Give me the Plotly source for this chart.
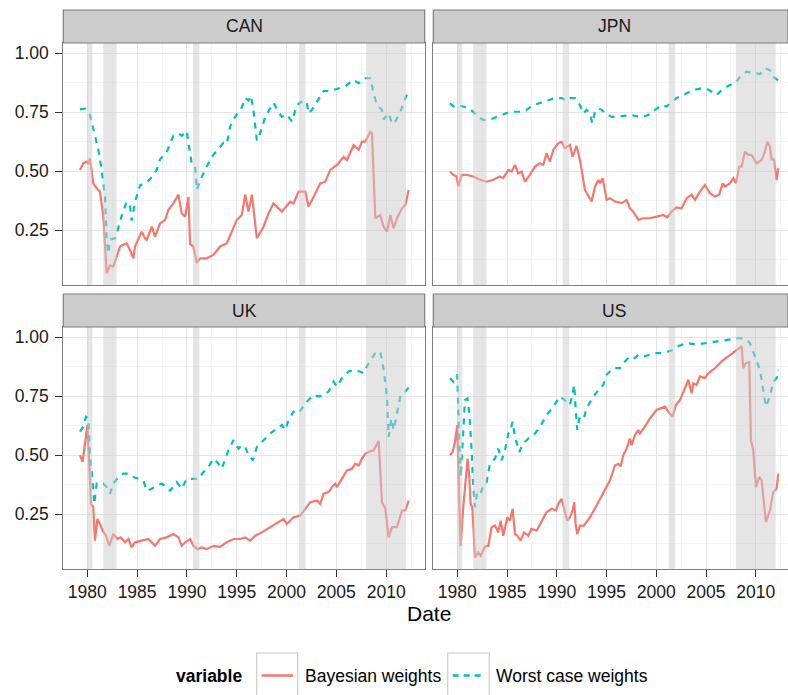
import plotly.graph_objects as go

# ---------------- data (decimal years, weights) ----------------
can_wc_date = [1979.26, 1979.77, 1980.27, 1981.11, 1981.44, 1981.78, 1981.94, 1982.11, 1982.28, 1982.78,
               1982.95, 1983.45, 1983.95, 1984.29, 1984.46, 1984.79, 1985.29, 1985.96, 1986.47, 1986.97,
               1987.30, 1987.97, 1988.64, 1989.15, 1989.48, 1989.72, 1989.98, 1990.15, 1990.49, 1990.82,
               1990.99, 1991.32, 1991.99, 1992.66, 1993.67, 1994.00, 1994.34, 1994.84, 1995.51, 1995.85,
               1996.18, 1996.42, 1996.68, 1997.02, 1997.35, 1997.86, 1998.69, 1999.20, 1999.53, 2000.03,
               2000.54, 2001.04, 2001.71, 2002.04, 2002.21, 2002.55, 2003.05, 2003.72, 2004.39, 2005.06,
               2005.90, 2006.73, 2007.24, 2007.91, 2008.41, 2008.74, 2009.08, 2009.58, 2009.75, 2010.25,
               2010.59, 2010.92, 2011.42, 2011.93, 2012.26]
can_wc = [0.762, 0.765, 0.738, 0.59, 0.505, 0.39, 0.21, 0.15, 0.21, 0.215,
          0.235, 0.31, 0.37, 0.35, 0.29, 0.37, 0.44, 0.45, 0.475, 0.505,
          0.55, 0.58, 0.65, 0.66, 0.65, 0.66, 0.67, 0.62, 0.53, 0.52,
          0.42, 0.46, 0.52, 0.57, 0.62, 0.615, 0.69, 0.73, 0.77, 0.81,
          0.80, 0.82, 0.76, 0.63, 0.66, 0.73, 0.79, 0.75, 0.73, 0.74,
          0.71, 0.78, 0.80, 0.79, 0.745, 0.76, 0.795, 0.84, 0.84, 0.85,
          0.86, 0.887, 0.873, 0.894, 0.894, 0.83, 0.78, 0.76, 0.72, 0.745,
          0.70, 0.71, 0.75, 0.81, 0.84]

can_bw_date = [1979.26, 1979.60, 1979.93, 1980.10, 1980.27, 1980.60, 1980.94, 1981.27, 1981.61, 1981.94,
               1982.28, 1982.61, 1982.95, 1983.28, 1983.62, 1983.95, 1984.29, 1984.62, 1984.79, 1985.46,
               1985.80, 1985.96, 1986.47, 1986.80, 1987.30, 1987.81, 1988.14, 1988.64, 1989.15, 1989.48,
               1989.82, 1990.15, 1990.32, 1990.65, 1990.99, 1991.32, 1991.66, 1991.99, 1992.66, 1993.33,
               1994.00, 1994.51, 1995.01, 1995.51, 1995.85, 1996.18, 1996.52, 1997.02, 1997.69, 1998.19,
               1998.69, 1999.53, 2000.37, 2000.70, 2001.21, 2001.88, 2002.21, 2002.71, 2003.38, 2003.89,
               2004.39, 2005.06, 2005.73, 2006.06, 2006.73, 2007.24, 2007.57, 2007.91, 2008.41, 2008.58,
               2008.91, 2009.41, 2009.75, 2010.08, 2010.42, 2010.75, 2011.09, 2011.59, 2011.93, 2012.26]
can_bw = [0.505, 0.533, 0.54, 0.533, 0.554, 0.448, 0.427, 0.413, 0.307, 0.066,
          0.10, 0.095, 0.137, 0.18, 0.187, 0.193, 0.165, 0.13, 0.18, 0.243,
          0.215, 0.208, 0.264, 0.222, 0.278, 0.293, 0.335, 0.363, 0.40, 0.32,
          0.307, 0.39, 0.19, 0.18, 0.11, 0.13, 0.13, 0.13, 0.144, 0.18,
          0.193, 0.243, 0.293, 0.314, 0.40, 0.328, 0.40, 0.215, 0.264, 0.32,
          0.363, 0.328, 0.37, 0.363, 0.413, 0.413, 0.35, 0.39, 0.448, 0.455,
          0.505, 0.526, 0.56, 0.547, 0.61, 0.59, 0.625, 0.625, 0.667, 0.66,
          0.30, 0.314, 0.264, 0.243, 0.314, 0.257, 0.30, 0.342, 0.356, 0.42]

jpn_wc_date = [1979.26, 1979.60, 1979.93, 1980.44, 1981.11, 1981.61, 1982.11, 1982.61, 1983.12, 1983.62,
               1984.46, 1985.29, 1986.30, 1986.97, 1987.64, 1988.64, 1989.15, 1989.82, 1990.49, 1990.99,
               1991.32, 1991.83, 1992.33, 1992.66, 1993.00, 1993.33, 1993.57, 1993.84, 1994.17, 1994.51,
               1995.01, 1995.51, 1996.52, 1997.52, 1998.53, 1999.20, 1999.87, 2000.54, 2001.04, 2001.54,
               2002.04, 2002.71, 2003.72, 2004.39, 2005.06, 2005.56, 2006.06, 2006.73, 2007.40, 2007.91,
               2008.41, 2009.08, 2009.75, 2010.42, 2010.92, 2011.42, 2011.76, 2012.26]
jpn_wc = [0.788, 0.774, 0.78, 0.776, 0.769, 0.752, 0.73, 0.717, 0.717, 0.724,
          0.738, 0.752, 0.752, 0.76, 0.78, 0.793, 0.80, 0.81, 0.81, 0.80,
          0.81, 0.81, 0.78, 0.745, 0.76, 0.745, 0.703, 0.752, 0.766, 0.76,
          0.74, 0.73, 0.733, 0.738, 0.728, 0.738, 0.76, 0.78, 0.774, 0.794,
          0.81, 0.823, 0.844, 0.85, 0.85, 0.837, 0.823, 0.85, 0.865, 0.872,
          0.90, 0.922, 0.918, 0.912, 0.936, 0.929, 0.90, 0.884]

jpn_bw_date = [1979.26, 1979.60, 1979.93, 1980.10, 1980.44, 1980.94, 1981.61, 1982.28, 1982.95, 1983.62,
               1984.29, 1984.62, 1985.13, 1985.46, 1985.80, 1986.13, 1986.47, 1986.80, 1987.30, 1987.81,
               1988.31, 1988.64, 1988.98, 1989.31, 1989.65, 1990.15, 1990.49, 1990.82, 1991.32, 1991.59,
               1991.99, 1992.33, 1992.83, 1993.50, 1993.84, 1994.17, 1994.34, 1994.61, 1995.01, 1995.34,
               1995.85, 1996.52, 1997.02, 1997.35, 1997.69, 1998.19, 1998.69, 1999.36, 2000.03, 2000.70,
               2001.11, 2001.54, 2002.04, 2002.55, 2003.05, 2003.55, 2003.89, 2004.39, 2004.89, 2005.39,
               2005.90, 2006.33, 2006.67, 2006.90, 2007.40, 2007.74, 2008.01, 2008.34, 2008.58, 2008.91,
               2009.25, 2009.58, 2010.08, 2010.59, 2010.92, 2011.16, 2011.42, 2011.59, 2011.83, 2012.09,
               2012.26]
jpn_bw = [0.498, 0.484, 0.477, 0.435, 0.484, 0.484, 0.477, 0.463, 0.455, 0.463,
          0.477, 0.47, 0.505, 0.498, 0.526, 0.49, 0.498, 0.455, 0.484, 0.519,
          0.533, 0.526, 0.575, 0.54, 0.59, 0.618, 0.625, 0.597, 0.611, 0.561,
          0.607, 0.547, 0.42, 0.371, 0.434, 0.462, 0.448, 0.47, 0.378, 0.385,
          0.371, 0.364, 0.378, 0.342, 0.328, 0.293, 0.30, 0.30, 0.307, 0.314,
          0.304, 0.328, 0.346, 0.342, 0.385, 0.40, 0.378, 0.413, 0.441, 0.406,
          0.392, 0.40, 0.448, 0.434, 0.448, 0.47, 0.448, 0.519, 0.519, 0.583,
          0.569, 0.569, 0.533, 0.547, 0.583, 0.625, 0.604, 0.55, 0.55, 0.462,
          0.512]

uk_wc_date = [1979.26, 1979.60, 1979.87, 1980.10, 1980.27, 1980.50, 1980.70, 1980.94, 1981.27, 1981.61,
              1981.94, 1982.28, 1982.61, 1983.12, 1983.62, 1984.12, 1984.62, 1985.29, 1985.63, 1985.96,
              1986.47, 1986.97, 1987.47, 1987.97, 1988.31, 1988.98, 1989.48, 1989.98, 1990.65, 1991.16,
              1991.66, 1992.16, 1992.66, 1993.17, 1993.50, 1993.84, 1994.17, 1994.67, 1995.18, 1995.51,
              1995.85, 1996.18, 1996.62, 1997.02, 1997.69, 1998.36, 1999.03, 1999.53, 1999.87, 2000.20,
              2000.70, 2001.21, 2001.54, 2002.04, 2002.71, 2003.22, 2003.72, 2004.22, 2004.72, 2005.06,
              2005.56, 2006.23, 2006.90, 2007.40, 2007.74, 2008.24, 2008.91, 2009.41, 2009.75, 2010.08,
              2010.25, 2010.52, 2010.75, 2011.02, 2011.42, 2011.93, 2012.26]
uk_wc = [0.60, 0.621, 0.663, 0.656, 0.493, 0.408, 0.294, 0.38, 0.386, 0.38,
         0.365, 0.337, 0.38, 0.408, 0.422, 0.422, 0.408, 0.40, 0.393, 0.35,
         0.358, 0.372, 0.38, 0.365, 0.35, 0.386, 0.358, 0.40, 0.40, 0.40,
         0.429, 0.45, 0.486, 0.464, 0.443, 0.479, 0.521, 0.564, 0.528, 0.543,
         0.535, 0.50, 0.479, 0.535, 0.564, 0.592, 0.614, 0.628, 0.607, 0.649,
         0.685, 0.678, 0.699, 0.727, 0.756, 0.749, 0.756, 0.77, 0.812, 0.791,
         0.827, 0.855, 0.862, 0.855, 0.848, 0.891, 0.933, 0.94, 0.862, 0.749,
         0.578, 0.656, 0.607, 0.663, 0.749, 0.77, 0.788]

uk_bw_date = [1979.26, 1979.53, 1979.77, 1980.00, 1980.20, 1980.37, 1980.60, 1980.77, 1981.01, 1981.27,
              1981.54, 1981.88, 1982.21, 1982.61, 1983.02, 1983.35, 1983.79, 1984.12, 1984.46, 1984.79,
              1985.46, 1986.13, 1986.80, 1987.30, 1987.97, 1988.64, 1989.15, 1989.48, 1989.82, 1990.32,
              1990.65, 1991.06, 1991.49, 1991.99, 1992.66, 1993.33, 1994.00, 1994.67, 1995.34, 1995.85,
              1996.35, 1996.85, 1997.52, 1998.36, 1999.20, 1999.70, 2000.03, 2000.70, 2001.37, 2001.88,
              2002.38, 2003.05, 2003.38, 2003.72, 2004.22, 2004.56, 2004.89, 2005.06, 2005.56, 2006.06,
              2006.57, 2006.90, 2007.24, 2007.57, 2007.91, 2008.24, 2008.74, 2009.25, 2009.58, 2009.92,
              2010.25, 2010.59, 2011.09, 2011.59, 2011.93, 2012.26]
uk_bw = [0.50, 0.472, 0.55, 0.628, 0.464, 0.294, 0.28, 0.138, 0.23, 0.209,
         0.18, 0.159, 0.116, 0.166, 0.145, 0.152, 0.131, 0.145, 0.11, 0.131,
         0.138, 0.145, 0.116, 0.145, 0.152, 0.166, 0.152, 0.116, 0.131, 0.145,
         0.116, 0.102, 0.109, 0.102, 0.116, 0.112, 0.131, 0.145, 0.145, 0.152,
         0.138, 0.159, 0.173, 0.195, 0.216, 0.23, 0.209, 0.237, 0.244, 0.273,
         0.301, 0.308, 0.294, 0.337, 0.344, 0.365, 0.38, 0.365, 0.40, 0.436,
         0.443, 0.464, 0.457, 0.486, 0.507, 0.514, 0.521, 0.561, 0.301, 0.273,
         0.152, 0.195, 0.195, 0.266, 0.266, 0.308]

us_wc_date = [1979.26, 1979.60, 1979.77, 1980.00, 1980.17, 1980.34, 1980.50, 1980.77, 1981.01, 1981.21,
              1981.44, 1981.61, 1981.78, 1982.01, 1982.35, 1982.61, 1982.95, 1983.28, 1983.79, 1984.12,
              1984.46, 1984.79, 1985.13, 1985.29, 1985.56, 1985.80, 1986.23, 1986.63, 1987.14, 1987.81,
              1988.31, 1988.98, 1989.65, 1990.32, 1990.99, 1991.32, 1991.59, 1991.76, 1991.89, 1992.06,
              1992.26, 1992.66, 1993.00, 1993.67, 1994.34, 1994.67, 1995.01, 1995.68, 1996.35, 1996.85,
              1997.35, 1997.86, 1998.19, 1998.86, 1999.70, 2000.70, 2001.71, 2002.21, 2003.05, 2004.05,
              2005.06, 2006.06, 2007.40, 2008.41, 2009.08, 2009.41, 2009.92, 2010.42, 2010.75, 2011.02,
              2011.42, 2011.76, 2012.09, 2012.26]
us_wc = [0.827, 0.812, 0.834, 0.841, 0.592, 0.408, 0.521, 0.734, 0.741, 0.678,
         0.521, 0.365, 0.28, 0.344, 0.337, 0.372, 0.386, 0.464, 0.486, 0.528,
         0.479, 0.521, 0.592, 0.599, 0.642, 0.578, 0.514, 0.55, 0.571, 0.592,
         0.621, 0.67, 0.706, 0.749, 0.727, 0.713, 0.763, 0.798, 0.699, 0.607,
         0.656, 0.649, 0.699, 0.749, 0.784, 0.798, 0.841, 0.869, 0.869, 0.898,
         0.919, 0.912, 0.926, 0.919, 0.933, 0.933, 0.947, 0.962, 0.976, 0.969,
         0.976, 0.983, 0.99, 0.997, 0.99, 0.976, 0.919, 0.862, 0.777, 0.706,
         0.749, 0.812, 0.827, 0.862]

us_bw_date = [1979.26, 1979.53, 1979.77, 1980.00, 1980.17, 1980.34, 1980.60, 1980.87, 1981.04, 1981.21,
              1981.34, 1981.51, 1981.78, 1982.11, 1982.35, 1982.78, 1983.12, 1983.45, 1983.79, 1984.12,
              1984.36, 1984.62, 1985.03, 1985.29, 1985.56, 1985.80, 1986.03, 1986.37, 1986.70, 1987.14,
              1987.47, 1987.97, 1988.48, 1988.98, 1989.48, 1989.92, 1990.15, 1990.49, 1990.82, 1991.06,
              1991.32, 1991.59, 1991.76, 1991.89, 1992.06, 1992.33, 1992.73, 1993.33, 1994.00, 1994.67,
              1995.34, 1995.85, 1996.18, 1996.42, 1996.68, 1997.02, 1997.35, 1997.52, 1997.86, 1998.19,
              1998.36, 1998.86, 1999.36, 2000.03, 2000.54, 2000.87, 2001.21, 2001.64, 2001.98, 2002.38,
              2002.88, 2003.22, 2003.55, 2003.72, 2004.05, 2004.39, 2004.89, 2005.23, 2005.90, 2006.57,
              2007.24, 2007.91, 2008.58, 2008.74, 2009.01, 2009.35, 2009.51, 2009.75, 2010.02, 2010.35,
              2010.59, 2011.02, 2011.42, 2011.76, 2012.09, 2012.26]
us_bw = [0.50, 0.514, 0.557, 0.628, 0.351, 0.116, 0.28, 0.408, 0.486, 0.408,
         0.294, 0.28, 0.067, 0.088, 0.074, 0.112, 0.116, 0.195, 0.202, 0.173,
         0.223, 0.159, 0.237, 0.223, 0.273, 0.166, 0.159, 0.138, 0.173, 0.159,
         0.188, 0.18, 0.223, 0.259, 0.273, 0.266, 0.294, 0.315, 0.259, 0.223,
         0.237, 0.266, 0.301, 0.209, 0.166, 0.202, 0.202, 0.237, 0.287, 0.337,
         0.393, 0.457, 0.464, 0.453, 0.50, 0.528, 0.571, 0.543, 0.585, 0.607,
         0.592, 0.621, 0.656, 0.692, 0.699, 0.706, 0.685, 0.663, 0.713, 0.734,
         0.784, 0.82, 0.763, 0.805, 0.798, 0.834, 0.827, 0.848, 0.869, 0.898,
         0.919, 0.94, 0.962, 0.869, 0.891, 0.894, 0.564, 0.521, 0.365, 0.408,
         0.393, 0.216, 0.266, 0.344, 0.358, 0.422]

recession_start = [1980.0, 1981.6, 1990.6, 2001.25, 2008.0]
recession_end = [1980.5, 1982.95, 1991.25, 2001.9, 2012.0]

countries = ["CAN", "JPN", "UK", "US"]
series_names = ["Bayesian weights", "Worst case weights"]
x_tick_vals = [1980, 1985, 1990, 1995, 2000, 2005, 2010]
y_tick_vals = [0.25, 0.50, 0.75, 1.00]

data = {
    "CAN": (can_bw_date, can_bw, can_wc_date, can_wc),
    "JPN": (jpn_bw_date, jpn_bw, jpn_wc_date, jpn_wc),
    "UK": (uk_bw_date, uk_bw, uk_wc_date, uk_wc),
    "US": (us_bw_date, us_bw, us_wc_date, us_wc),
}

# ---------------- layout geometry ----------------
W, H = 788, 695
RED, CYAN = "#F8766D", "#00BFC4"
FONT = "Liberation Sans, Arial, sans-serif"
TXT = "#1A1A1A"

def px_x(p):
    return p / W

def px_y(p):
    return 1 - p / H

panel_x = [(63.3, 424.7), (433.3, 788.0), (63.3, 424.7), (433.3, 788.0)]
panel_y = [(43.0, 285.0), (43.0, 285.0), (327.0, 569.3), (327.0, 569.3)]
strip_y = [(10.0, 43.0), (10.0, 43.0), (294.0, 327.0), (294.0, 327.0)]
x_ranges = [[1977.59, 2013.87], [1977.59, 2013.24], [1977.59, 2013.87], [1977.59, 2013.24]]
y_range = [0.0166, 1.0437]

fig = go.Figure()
shapes = []
annotations = []

for i, c in enumerate(countries):
    n = "" if i == 0 else str(i + 1)
    xa, ya = "x" + n, "y" + n
    bd, bv, wd, wv = data[c]
    fig.add_trace(go.Scatter(x=bd, y=bv, mode="lines", name=series_names[0],
                             line=dict(color=RED, width=2.2), xaxis=xa, yaxis=ya,
                             showlegend=False))
    fig.add_trace(go.Scatter(x=wd, y=wv, mode="lines", name=series_names[1],
                             line=dict(color=CYAN, width=2.2, dash="6px,6px"), xaxis=xa, yaxis=ya,
                             showlegend=False))
    bottom = i >= 2
    left = i % 2 == 0
    fig.update_layout(**{
        "xaxis" + n: dict(
            domain=[px_x(panel_x[i][0]), px_x(panel_x[i][1])], anchor=ya,
            range=x_ranges[i], tickvals=x_tick_vals,
            showticklabels=bottom, ticks="outside" if bottom else "",
            ticklen=7, tickwidth=1, tickcolor="#333333",
            tickfont=dict(family=FONT, size=17.5, color=TXT),
            showgrid=True, gridcolor="#E5E5E5", gridwidth=1.3,
            minor=dict(tickvals=[1982.5, 1987.5, 1992.5, 1997.5, 2002.5, 2007.5, 2012.5],
                       showgrid=True, gridcolor="#F4F4F4", gridwidth=1.3, ticks=""),
            showline=True, mirror=True, linecolor="#7F7F7F", linewidth=1.2,
            zeroline=False, fixedrange=True,
        ),
        "yaxis" + n: dict(
            domain=[px_y(panel_y[i][1]), px_y(panel_y[i][0])], anchor=xa,
            range=y_range, tickvals=y_tick_vals, tickformat=".2f",
            showticklabels=left, ticks="outside" if left else "",
            ticklen=7, tickwidth=1, tickcolor="#333333", ticklabelstandoff=3,
            tickfont=dict(family=FONT, size=17.5, color=TXT),
            showgrid=True, gridcolor="#E5E5E5", gridwidth=1.3,
            minor=dict(tickvals=[0.125, 0.375, 0.625, 0.875],
                       showgrid=True, gridcolor="#F4F4F4", gridwidth=1.3, ticks=""),
            showline=True, mirror=True, linecolor="#7F7F7F", linewidth=1.2,
            zeroline=False, fixedrange=True,
        ),
    })
    # recession shading (drawn above the lines, semi-transparent)
    for s, e in zip(recession_start, recession_end):
        shapes.append(dict(type="rect", xref=xa, yref=ya + " domain", x0=s, x1=e, y0=0, y1=1,
                           fillcolor="#CCCCCC", opacity=0.5, line=dict(width=0), layer="above"))
    # facet strip
    shapes.append(dict(type="rect", xref="paper", yref="paper",
                       x0=px_x(panel_x[i][0]), x1=px_x(panel_x[i][1]),
                       y0=px_y(strip_y[i][1]), y1=px_y(strip_y[i][0]),
                       fillcolor="#CCCCCC", line=dict(color="#7F7F7F", width=1.2), layer="above"))
    annotations.append(dict(text=c, xref="paper", yref="paper",
                            x=px_x((panel_x[i][0] + min(panel_x[i][0] + 361.4, 794.7)) / 2),
                            y=px_y((strip_y[i][0] + strip_y[i][1]) / 2),
                            showarrow=False, xanchor="center", yanchor="middle",
                            font=dict(family=FONT, size=17.5, color=TXT)))

# axis title
annotations.append(dict(text="Date", xref="paper", yref="paper", x=px_x(429), y=px_y(613.5),
                        showarrow=False, xanchor="center", yanchor="middle",
                        font=dict(family=FONT, size=21, color="#000000")))

# legend (manual, ggplot style with key boxes)
annotations.append(dict(text="<b>variable</b>", xref="paper", yref="paper", x=px_x(174), y=px_y(676),
                        showarrow=False, xanchor="left", yanchor="middle",
                        font=dict(family=FONT, size=17.5, color="#000000")))
key_boxes = [(256.7, 297.7), (447.7, 489.3)]
key_colors = [RED, CYAN]
key_dash = ["solid", "6px,5px"]
label_x = [302.5, 493.5]
for (k0, k1), col, dsh, lx, name in zip(key_boxes, key_colors, key_dash, label_x, series_names):
    shapes.append(dict(type="rect", xref="paper", yref="paper", x0=px_x(k0), x1=px_x(k1),
                       y0=px_y(720), y1=px_y(653), fillcolor="#FFFFFF",
                       line=dict(color="#CCCCCC", width=1.2)))
    shapes.append(dict(type="line", xref="paper", yref="paper", x0=px_x(k0 + 5), x1=px_x(k1 - 4.5),
                       y0=px_y(675.5), y1=px_y(675.5), line=dict(color=col, width=2.4, dash=dsh)))
    annotations.append(dict(text=name, xref="paper", yref="paper", x=px_x(lx), y=px_y(676),
                            showarrow=False, xanchor="left", yanchor="middle",
                            font=dict(family=FONT, size=17.5, color="#000000")))

fig.update_layout(
    width=W, height=H, margin=dict(l=0, r=0, t=0, b=0),
    paper_bgcolor="#FFFFFF", plot_bgcolor="#FFFFFF",
    shapes=shapes, annotations=annotations, showlegend=False,
    font=dict(family=FONT, size=17.5, color=TXT),
)

fig.write_html("out.html")
